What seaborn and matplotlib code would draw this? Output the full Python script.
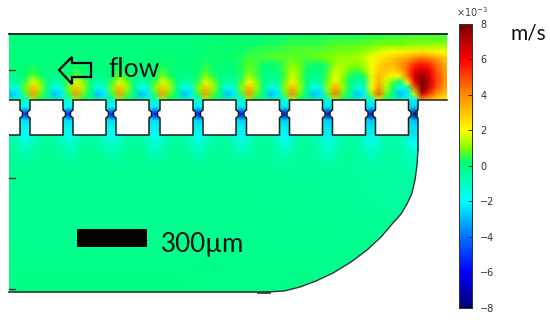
import numpy as np
import matplotlib
matplotlib.use("Agg")
import matplotlib.pyplot as plt
from matplotlib.colors import LinearSegmentedColormap
from matplotlib.patches import PathPatch, Polygon, Rectangle
from matplotlib.path import Path
import seaborn as sns

# velocity field in 1e-3 m/s
# channel above the cells, one list per row (y = 34, 40 ... 100 px)
row_034 = [.1, .1,.1,.1,.1,.1,.1, .1,.1,.1,.1,.1,.1, .1,.1,.1,.1,.1,.1, .1,.1,.1,.1,.1,.1, .1,.1,.1,.1,.1,.2, .2,.2,.2,.2,.2,.2, .2,.2,.2,.3,.3,.3, .3,.3,.3,.3,.3,.3, .3,.4,.4,.4,.4,.5, .5,.5,.6,.6,.6,.6, .6,.6]
row_040 = [.1, .1,.1,.1,.1,.1,.1, .1,.1,.1,.1,.1,.1, .1,.1,.1,.1,.1,.1, .1,.1,.1,.1,.1,.1, .1,.1,.1,.1,.1,.2, .2,.2,.2,.2,.2,.2, .3,.3,.3,.4,.4,.4, .4,.4,.5,.5,.5,.5, .5,.6,.6,.7,.7,.7, .7,.8,.8,.8,.8,.8, .8,.8]
row_046 = [.1, .1,.1,.1,.1,.1,.1, .1,.1,.1,.1,.1,.1, .1,.1,.1,.1,.1,.1, .1,.1,.1,.1,.1,.1, .1,.1,.1,.2,.2,.2, .2,.2,.2,.3,.3,.4, .4,.4,.5,.5,.5,.6, .6,.6,.7,.7,.8,.8, .8,.9,.9,1.0,1.1,1.1, 1.1,1.2,1.2,1.2,1.3,1.3, 1.3,1.2]
row_052 = [.1, .1,.1,.1,.1,.1,.1, .1,.1,.1,.1,.1,.1, .1,.1,.1,.1,.1,.1, .1,.1,.1,.1,.1,.1, .1,.1,.1,.2,.2,.2, .2,.2,.3,.4,.5,.5, .5,.6,.6,.7,.7,.7, .7,.8,.8,.9,.9,.9, 1.0,1.1,1.4,1.7,1.9,2.0, 2.1,2.2,2.3,2.4,2.3,2.2, 2.0,1.8]
row_058 = [.1, .1,.1,.1,.1,.1,.1, .1,.1,.1,.1,.1,.1, .1,.1,.1,.1,.1,.1, .1,.1,.1,.2,.2,.2, .2,.2,.2,.3,.3,.3, .3,.3,.4,.6,.6,.6, .7,.8,.8,.8,.7,.7, .8,.9,1.0,1.1,1.2,1.2, 1.3,1.5,1.9,2.3,2.6,2.9, 3.2,3.6,4.0,4.2,4.0,3.5, 3.0,2.5]
row_064 = [.1, .1,.1,.1,.2,.1,.1, .1,.1,.1,.2,.1,.1, .1,.1,.1,.2,.1,.1, .1,.1,.2,.3,.2,.1, .1,.1,.2,.4,.2,.1, .1,.2,.4,.7,.6,.3, .2,.3,.6,1.0,.8,.4, .3,.3,.5,1.2,1.3,1.2, 1.1,1.3,1.9,2.6,3.0,3.2, 3.7,4.3,5.2,5.6,5.2,4.4, 3.6,3.0]
row_070 = [.1, .1,.1,.2,.4,.2,.1, .1,.1,.2,.4,.2,.1, .1,.1,.2,.4,.2,.1, .1,.1,.2,.5,.2,.1, .1,.1,.3,.6,.3,.1, .1,.1,.4,.9,.6,.1, 0,.3,.8,1.4,1.0,.3, .1,.1,.6,1.6,1.4,.8, .7,1.1,2.0,2.8,3.0,2.8, 3.4,4.6,6.0,6.6,6.0,4.9, 3.9,3.2]
row_076 = [0, -.2,-.1,.2,.8,.3,0, -.2,-.1,.2,.8,.3,0, -.2,-.1,.2,.8,.3,0, -.2,-.1,.3,.9,.3,0, -.2,-.1,.3,1.0,.4,0, -.2,-.1,.4,1.2,.6,0, -.2,-.1,.6,1.6,.9,.1, -.2,-.1,.8,1.9,1.1,.4, -.3,.4,1.9,3.2,2.6,2.0, 2.2,4.4,6.6,7.6,6.6,5.1, 4.0,3.3]
row_082 = [-.1, -.6,-.4,.6,1.8,1,-.1, -.6,-.4,.6,1.8,1,-.1, -.6,-.4,.6,1.8,1,-.1, -.6,-.4,.6,1.8,1,-.1, -.6,-.4,.6,1.8,1,-.1, -.6,-.4,.7,2,1.1,-.1, -.6,-.4,.9,2.2,1.1,-.1, -.6,-.4,1.0,2.3,1.0,.1, -.5,-.2,1.8,3.2,1.6,.8, -.2,2.2,6,8,6.8,5.2, 4.1,3.4]
row_088 = [-.2, -1.7,-1.2,1,3,1.3,-.1, -1.7,-1.2,1,3,1.3,-.1, -1.7,-1.2,1,3,1.3,-.1, -1.7,-1.2,1,3,1.3,-.1, -1.7,-1.2,1,3,1.3,-.1, -1.7,-1.2,1,3.2,1.3,-.1, -1.7,-1.3,1.1,3.3,1.3,-.1, -1.7,-1.4,1.3,3.5,1.2,-.1, -1.6,-1.1,2,3.9,1.4,.3, -1.9,-.8,4.5,8,6.6,4.9, 3.8,3.2]
row_094 = [-.3, -3.0,-2.2,.6,3.8,.8,-.2, -3.0,-2.2,.6,3.8,.8,-.2, -3.0,-2.2,.6,3.8,.8,-.2, -3.0,-2.2,.6,3.8,.8,-.2, -3.0,-2.2,.6,3.8,.8,-.2, -3.0,-2.2,.6,3.9,.8,-.2, -3.0,-2.3,.7,4.0,.8,-.2, -3.0,-2.4,.8,4.2,.8,-.2, -2.9,-2.2,1.2,4.6,.9,-.2, -3.0,-2.2,1.5,6.8,5.2,4, 3.2,2.8]
row_100 = [-.2, -.7,-.8,-1.3,1.2,.2,-.2, -.7,-.8,-1.3,1.2,.2,-.2, -.7,-.8,-1.3,1.2,.2,-.2, -.7,-.8,-1.3,1.2,.2,-.2, -.7,-.8,-1.3,1.2,.2,-.2, -.7,-.8,-1.4,1.3,.2,-.2, -.7,-.8,-1.4,1.4,.2,-.2, -.7,-.8,-1.5,1.5,.2,-.2, -.7,-.9,-1.6,1.8,.3,-.2, -.9,-1.2,-2.2,3.5,3,2.6, 2.3,2]
upper_rows = [row_034, row_040, row_046, row_052, row_058, row_064, row_070, row_076, row_082, row_088, row_094, row_100]

# slits and the streaks under them (y = 100, 107 ... 170 px), three columns per cell
slit_100 = [-.4, -.7,-1.3,-.7, -.7,-1.3,-.7, -.7,-1.3,-.7, -.7,-1.3,-.7, -.7,-1.3,-.7, -.7,-1.4,-.7, -.7,-1.4,-.7, -.7,-1.5,-.7, -.7,-1.6,-.7, -.8,-2.2,-.8, -.8]
slit_107 = [-.6, -1,-2,-1, -1,-2,-1, -1,-2.1,-1, -1,-2.2,-1, -1,-2.2,-1, -1,-2.3,-1, -1,-2.3,-1, -1,-2.4,-1, -1,-2.5,-1, -1,-2.7,-1, -1]
slit_114 = [-1.2, -1.6,-5.4,-1.6, -1.6,-5.6,-1.6, -1.6,-5.8,-1.6, -1.6,-6,-1.6, -1.6,-6.2,-1.6, -1.6,-6.4,-1.6, -1.6,-6.6,-1.6, -1.6,-6.8,-1.6, -1.6,-7,-1.6, -1.6,-7.2,-1.6, -1.6]
slit_121 = [-.9, -1,-2.4,-1, -1,-2.4,-1, -1,-2.5,-1, -1,-2.5,-1, -1,-2.6,-1, -1,-2.6,-1, -1,-2.7,-1, -1,-2.7,-1, -1,-2.8,-1, -1,-2.9,-1, -1]
slit_128 = [-.7, -1,-2.1,-1, -1,-2.1,-1, -1,-2.1,-1, -1,-2.2,-1, -1,-2.2,-1, -1,-2.3,-1, -1,-2.3,-1, -1,-2.4,-1, -1,-2.4,-1, -1,-2.5,-1, -1]
slit_135 = [-.6, -.7,-1.9,-.7, -.7,-1.9,-.7, -.7,-2,-.7, -.7,-2,-.7, -.7,-2,-.7, -.7,-2.1,-.7, -.7,-2.1,-.7, -.7,-2.2,-.7, -.7,-2.2,-.7, -.7,-2.4,-.8, -.8]
slit_142 = [-.4, -.5,-1.4,-.5, -.5,-1.4,-.5, -.5,-1.4,-.5, -.5,-1.5,-.5, -.5,-1.5,-.5, -.5,-1.5,-.5, -.5,-1.6,-.5, -.5,-1.6,-.5, -.6,-1.7,-.6, -.7,-2,-.8, -.8]
slit_149 = [-.3, -.4,-1,-.4, -.4,-1,-.4, -.4,-1,-.4, -.4,-1.1,-.4, -.4,-1.1,-.4, -.4,-1.1,-.4, -.4,-1.1,-.4, -.5,-1.2,-.5, -.5,-1.2,-.6, -.6,-1.5,-.7, -.7]
slit_156 = [-.3, -.3,-.7,-.3, -.3,-.7,-.3, -.3,-.7,-.3, -.3,-.8,-.3, -.3,-.8,-.3, -.4,-.8,-.4, -.4,-.8,-.4, -.4,-.9,-.4, -.5,-.9,-.5, -.6,-1.1,-.7, -.7]
slit_163 = [-.3, -.3,-.5,-.3, -.3,-.5,-.3, -.3,-.5,-.3, -.3,-.5,-.3, -.3,-.5,-.3, -.3,-.5,-.3, -.4,-.6,-.4, -.4,-.6,-.4, -.5,-.7,-.5, -.6,-.9,-.7, -.7]
slit_170 = [-.3, -.3,-.4,-.3, -.3,-.4,-.3, -.3,-.4,-.3, -.3,-.4,-.3, -.3,-.4,-.3, -.3,-.4,-.3, -.4,-.4,-.4, -.4,-.5,-.4, -.5,-.5,-.5, -.6,-.7,-.6, -.6]
slit_rows = [slit_100, slit_107, slit_114, slit_121, slit_128, slit_135, slit_142, slit_149, slit_156, slit_163, slit_170]

# big chamber below (y = 170 ... 293 px)
lower_rows = [
    [-.3, -.3, -.3, -.35, -.4, -.5, -.65],
    [-.25, -.25, -.25, -.25, -.3, -.4, -.6],
    [-.2, -.2, -.2, -.2, -.2, -.3, -.4],
    [-.15, -.15, -.15, -.15, -.15, -.2, -.3],
    [-.05, -.05, -.05, -.1, -.1, -.1, -.2],
]

cbar_ticks = [-8, -6, -4, -2, 0, 2, 4, 6, 8]

# outline of the chamber in pixels of the picture
curve_x = [418, 418, 417, 415, 412, 407, 401, 393, 381, 367, 351, 333, 316, 300, 284, 267]
curve_y = [100, 150, 165, 180, 193, 204, 214, 223, 237, 250, 262, 273, 281, 287, 291, 292]
cell_starts = [30, 73, 116, 160, 203, 246.5, 289.5, 332.5, 375.5]
cell_width = 33

W, H = 550, 320
fig = plt.figure(figsize=(W / 100, H / 100), dpi=100)
fig.patch.set_facecolor("white")

# COMSOL style rainbow
rainbow = LinearSegmentedColormap.from_list("rainbow_comsol", [
    (0 / 16, (0, 0, .45)), (2 / 16, (0, 0, 1)), (4 / 16, (0, .45, 1)), (6 / 16, (0, 1, 1)),
    (8 / 16, (0, 1, .5)), (8.2 / 16, (0, 1, .45)), (9 / 16, (.5, 1, 0)), (10 / 16, (1, 1, 0)),
    (12 / 16, (1, .55, 0)), (14 / 16, (1, 0, 0)), (16 / 16, (.45, 0, 0))])


def px_axes(x0, y0, x1, y1):
    return fig.add_axes([x0 / W, 1 - y1 / H, (x1 - x0) / W, (y1 - y0) / H])


def field(rows, x0, y0, x1, y1):
    # one gouraud shaded heatmap
    a = px_axes(x0, y0, x1, y1)
    values = np.array(rows, dtype=float)
    sns.heatmap(values, ax=a, cmap=rainbow, vmin=-8, vmax=8, cbar=False, shading="gouraud",
                xticklabels=False, yticklabels=False)
    a.set_xlim(0, values.shape[1] - 1)
    a.set_ylim(values.shape[0] - 1, 0)
    a.axis("off")
    return a


field(lower_rows, -3, 170, 429, 293)
field(slit_rows, -3, 100, 443.4, 170)
field(upper_rows, 4.2, 34, 450.6, 100)

overlay = px_axes(0, 0, W, H)
overlay.set_xlim(0, W)
overlay.set_ylim(H, 0)
overlay.axis("off")

# white mask around the chamber
domain = [(9, 34), (447, 34), (447, 100)] + list(zip(curve_x, curve_y)) + [(9, 292)]
frame = [(0, 0), (0, H), (W, H), (W, 0)]
verts = frame + [frame[0]] + domain + [domain[0]]
codes = [Path.MOVETO] + [Path.LINETO] * 3 + [Path.CLOSEPOLY] + [Path.MOVETO] + [Path.LINETO] * (len(domain) - 1) + [Path.CLOSEPOLY]
overlay.add_patch(PathPatch(Path(verts, codes), fc="white", ec="none"))

# white cells with the little tabs in the slits
tab = 2.5
line_col = "#1c1c1c"


def cell_poly(x0, x1):
    return [(x0, 100), (x1, 100), (x1, 110), (x1 + tab, 112), (x1 + tab, 116), (x1, 118),
            (x1, 135), (x0, 135), (x0, 118), (x0 - tab, 116), (x0 - tab, 112), (x0, 110)]


for s in cell_starts:
    overlay.add_patch(Polygon(cell_poly(s, s + cell_width), closed=True, fc="white", ec=line_col, lw=1.1))
first = Polygon(cell_poly(-20, 20), closed=True, fc="white", ec=line_col, lw=1.1)
overlay.add_patch(first)
first.set_clip_path(Rectangle((9, 90), 40, 60, transform=overlay.transData))

# channel walls
overlay.plot([9, 447], [34, 34], color=line_col, lw=1.3)
overlay.plot([447, 418, 418, 418 + tab * -1, 418 - tab, 418, 418], [100, 100, 110, 112, 116, 118, 150], color=line_col, lw=1.1)
overlay.plot(curve_x[1:], curve_y[1:], color="#333333", lw=1.0)
overlay.plot([9, 270], [292, 292], color="#333333", lw=1.2)
overlay.plot([258, 270], [293, 293], color="#333333", lw=1.2)
for ty in [70, 178, 289]:
    overlay.plot([9, 15], [ty, ty], color="#222222", lw=0.9)

# arrow, scale bar and labels
overlay.add_patch(Polygon([(59, 70), (72, 57), (72, 63), (91, 63), (91, 77), (72, 77), (72, 84)],
                          closed=True, fc="none", ec="black", lw=1.6))
overlay.add_patch(Rectangle((77, 229), 70, 18, fc="black", ec="none"))
overlay.text(108, 77, "flow", fontsize=19, family="Lato", color="#111111", va="baseline")
overlay.text(161, 252, "300µm", fontsize=18.6, family="Lato", color="#111111", va="baseline")
overlay.text(511, 39, "m/s", fontsize=15, family="Lato", color="#111111", va="baseline")
overlay.text(472, 12, r"$\times10^{-3}$", fontsize=7, color="#444444", ha="center", va="center")

# colorbar from a small heatmap of the scale itself
cax = px_axes(458.5, 23.5, 472, 308)
hidden = px_axes(0, 0, 1, 1)
sns.heatmap(np.array([cbar_ticks], dtype=float), ax=hidden, cbar_ax=cax, cmap=rainbow, vmin=-8, vmax=8,
            xticklabels=False, yticklabels=False, cbar_kws={"ticks": cbar_ticks})
hidden.set_visible(False)
cax.tick_params(direction="in", length=3, width=0.7, labelsize=7, labelcolor="#333333", pad=6, color="#222222")
for sp in cax.spines.values():
    sp.set_visible(True)
    sp.set_linewidth(0.7)
    sp.set_color("#333333")

fig.savefig("out.png", dpi=100)
